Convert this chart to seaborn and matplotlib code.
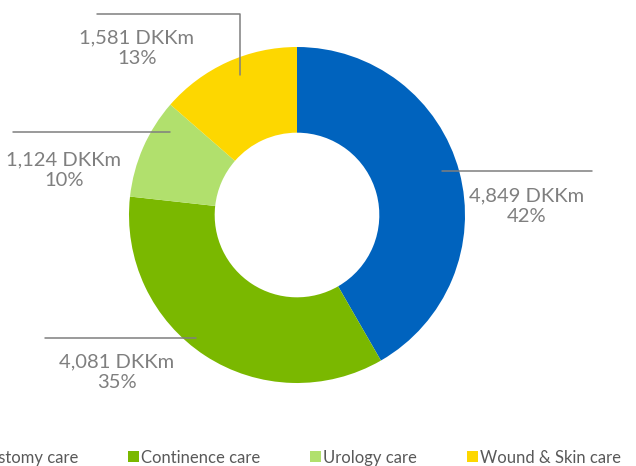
import matplotlib
matplotlib.use('Agg')
import matplotlib.pyplot as plt
import seaborn as sns
from matplotlib.patches import Patch

# data
segments = ['Ostomy care', 'Continence care', 'Urology care', 'Wound & Skin care']
revenue = [4849, 4081, 1124, 1581]
shares = ['42%', '35%', '10%', '13%']
colors = sns.color_palette(['#0063BE', '#7AB800', '#B1E06D', '#FDD700'])

sns.set_theme(style='white')
plt.rcParams['font.family'] = ['Lato', 'DejaVu Sans']

fig = plt.figure(figsize=(6.36, 4.66), dpi=100)
ax = fig.add_axes([0, 0, 1, 1])

ax.pie(revenue, colors=colors, startangle=90, counterclock=False,
       radius=1, wedgeprops=dict(width=0.51, linewidth=0))

# pixel -> data helpers (center at 297,215 px, radius 168 px)
def px(x): return (x - 297) / 168
def py(y): return (215 - y) / 168

ax.set_xlim(px(0), px(636))
ax.set_ylim(py(466), py(0))
ax.set_aspect('auto')
ax.axis('off')

grey = '#7F7F7F'
txt = '#7F7F7F'

# label layout: leader line points and text centre
layout = [
    dict(line=[(442, 171), (592, 171)], text=(527, 206)),
    dict(line=[(45, 338), (196, 338)], text=(117, 372)),
    dict(line=[(13, 132), (170, 132)], text=(64, 170)),
    dict(line=[(97, 14), (240, 14), (240, 75)], text=(137, 48)),
]
for val, pct, lay in zip(revenue, shares, layout):
    xs = [px(p[0]) for p in lay['line']]
    ys = [py(p[1]) for p in lay['line']]
    ax.plot(xs, ys, color=grey, lw=1.1)
    ax.text(px(lay['text'][0]), py(lay['text'][1]), f'{val:,} DKKm\n{pct}',
            ha='center', va='center', fontsize=14.5, color=txt, linespacing=1.3)

# legend runs off the left edge, like the reference
handles = [Patch(facecolor=c, edgecolor='none') for c in colors]
fig.legend(handles, segments, loc='center left', bbox_to_anchor=(-0.068, 0.018),
           ncol=4, frameon=False, fontsize=12, handlelength=0.66, handleheight=0.66,
           handletextpad=0.12, columnspacing=3.0, labelcolor='#595959')

plt.savefig('out.png', dpi=100)
